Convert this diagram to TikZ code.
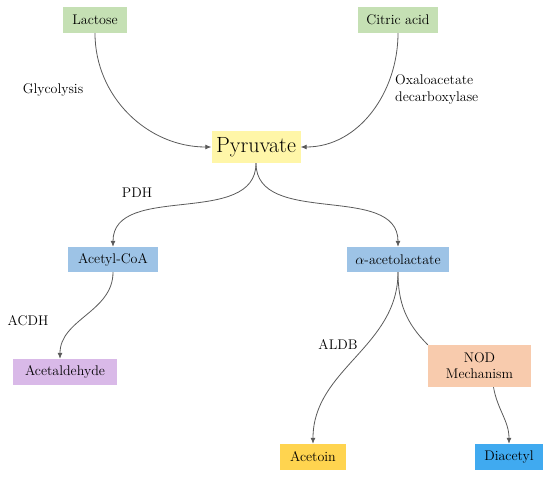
\documentclass[tikz,border=0pt]{standalone}
\usepackage{tikz}
\usetikzlibrary{arrows.meta}

\definecolor{srcgreen}{HTML}{C5E0B4}
\definecolor{pyryellow}{HTML}{FFF6A8}
\definecolor{midblue}{HTML}{9DC3E6}
\definecolor{lavender}{HTML}{D9B9E8}
\definecolor{peach}{HTML}{F8CBAD}
\definecolor{gold}{HTML}{FFD44F}
\definecolor{brightblue}{HTML}{40AAF0}
\definecolor{wire}{HTML}{5A5A5A}

\begin{document}
\begin{tikzpicture}[x=1pt, y=-1pt,
  box/.style={inner sep=0pt, minimum height=26pt, align=center, text=black, font=\fontsize{14}{16}\selectfont},
  lbl/.style={inner sep=0pt, text=black, font=\fontsize{14}{17}\selectfont},
  arr/.style={draw=wire, line width=0.8pt, -{Latex[length=6pt, width=5pt]}},
  plain/.style={draw=wire, line width=0.8pt}]
\useasboundingbox (0,0) rectangle (550,477);
% boxes
\node[box, fill=srcgreen, minimum width=64pt] (lac) at (95,20) {Lactose};
\node[box, fill=srcgreen, minimum width=80pt] (cit) at (398,20) {Citric acid};
\node[box, fill=pyryellow, minimum width=89pt, minimum height=32pt, font=\fontsize{22}{24}\selectfont] (pyr) at (256,147) {Pyruvate};
\node[box, fill=midblue, minimum width=90pt, minimum height=25pt] (acoa) at (113,259.5) {Acetyl-CoA};
\node[box, fill=midblue, minimum width=102pt, minimum height=25pt] (alac) at (398,259.5) {$\alpha$-acetolactate};
\node[box, fill=lavender, minimum width=104pt] (acald) at (65,372) {Acetaldehyde};
\node[box, fill=peach, minimum width=103pt, minimum height=42pt] (nod) at (479.5,366) {NOD\\Mechanism};
\node[box, fill=gold, minimum width=66pt] (acetoin) at (313,457) {Acetoin};
\node[box, fill=brightblue, minimum width=68pt] (diac) at (509,457) {Diacetyl};
% labels
\node[lbl] (glyc) at (53,90) {Glycolysis};
\node[lbl, align=left, anchor=west] (oxd) at (395,89) {Oxaloacetate\\decarboxylase};
\node[lbl] (pdh) at (137,193) {PDH};
\node[lbl] (acdh) at (28,321) {ACDH};
\node[lbl] (aldb) at (338,344) {ALDB};
% connectors
\draw[arr] (lac.south) to[out=-90, in=180] (pyr.west);
\draw[arr] (cit.south) to[out=-90, in=0] (pyr.east);
\draw[arr] (pyr.south) to[out=-90, in=90] (acoa.north);
\draw[arr] (pyr.south) to[out=-90, in=90] (alac.north);
\draw[arr] (acoa.south) to[out=-90, in=90] ([xshift=-5pt]acald.north);
\draw[arr] (alac.south) to[out=-90, in=90] (acetoin.north);
\draw[plain] (alac.south) to[out=-90, in=135] (nod.north west);
\draw[arr] ([xshift=14pt]nod.south) to[out=-80, in=90] (diac.north);
\end{tikzpicture}
\end{document}
